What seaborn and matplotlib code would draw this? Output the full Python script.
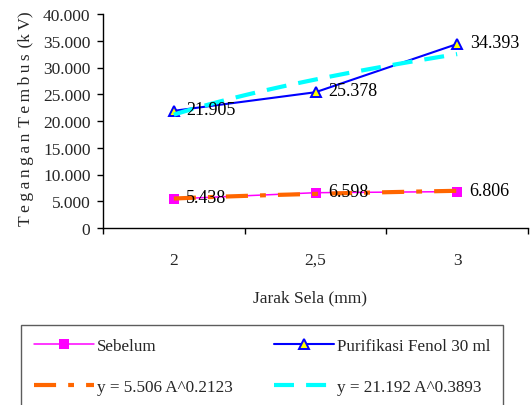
import numpy as np
import pandas as pd
import matplotlib
matplotlib.use("Agg")
import matplotlib.pyplot as plt
import seaborn as sns

# Gap distance categories (mm) and breakdown voltage (kV)
jarak_labels = ["2", "2,5", "3"]
jarak_pos = [1, 2, 3]
sebelum = [5.438, 6.598, 6.806]
purifikasi = [21.905, 25.378, 34.393]

# Power trendline coefficients: y = a * A^b
trend_sebelum = [5.506, 0.2123]
trend_purifikasi = [21.192, 0.3893]

y_ticks = [0, 5, 10, 15, 20, 25, 30, 35, 40]
y_tick_labels = ["0", "5.000", "10.000", "15.000", "20.000", "25.000",
                 "30.000", "35.000", "40.000"]

sns.set_theme(style="white")
plt.rcParams["font.family"] = ["Liberation Serif", "DejaVu Serif"]

fig = plt.figure(figsize=(5.32, 4.06), dpi=100)
ax = fig.add_axes([103 / 532, 1 - 229 / 406, 425 / 532, 214 / 406])

df = pd.DataFrame({"A": jarak_pos, "Sebelum": sebelum, "Purifikasi": purifikasi})

A_fine = np.linspace(jarak_pos[0], jarak_pos[-1], 100)
trend_df = pd.DataFrame({
    "A": A_fine,
    "ts": trend_sebelum[0] * A_fine ** trend_sebelum[1],
    "tp": trend_purifikasi[0] * A_fine ** trend_purifikasi[1],
})

sns.lineplot(data=df, x="A", y="Sebelum", ax=ax, color="#FF00FF", lw=1.1,
             marker="s", markersize=6.5, markeredgewidth=0,
             markerfacecolor="#FF00FF", label="Sebelum", zorder=3)
sns.lineplot(data=trend_df, x="A", y="ts", ax=ax, color="#FF6600", lw=3,
             linestyle=(0, (5.3, 2.9, 1.4, 2.9)),
             label="y = 5.506 A^0.2123", zorder=4)
sns.lineplot(data=df, x="A", y="Purifikasi", ax=ax, color="#0000FF", lw=1.5,
             marker="^", markersize=7.5, markeredgewidth=1.4,
             markeredgecolor="#0000FF", markerfacecolor="#FFFF00",
             label="Purifikasi Fenol 30 ml", zorder=3)
sns.lineplot(data=trend_df, x="A", y="tp", ax=ax, color="#00FFFF", lw=3,
             linestyle=(0, (4.8, 2.9)),
             label="y = 21.192 A^0.3893", zorder=4)

# Value labels to the right of each point
for xs, ys in [(jarak_pos, sebelum), (jarak_pos, purifikasi)]:
    for x, y in zip(xs, ys):
        ax.annotate(f"{y:.3f}", (x, y), xytext=(9, 1), textcoords="offset points",
                    ha="left", va="center", fontsize=13, color="black", zorder=6)

ax.set_xlim(0.5, 3.5)
ax.set_ylim(0, 40)
ax.set_yticks(y_ticks)
ax.set_yticklabels(y_tick_labels, fontsize=12.5)
ax.set_xticks(jarak_pos)
ax.set_xticklabels(jarak_labels, fontsize=12.5)
ax.set_xticks([0.5, 1.5, 2.5, 3.5], minor=True)
ax.tick_params(axis="x", which="major", length=0, pad=17)
ax.tick_params(axis="x", which="minor", length=4.5, width=1, color="black", direction="out", bottom=True)
ax.tick_params(axis="y", which="major", length=4, width=1, color="black", direction="out", left=True, pad=5)

for side in ["top", "right"]:
    ax.spines[side].set_visible(False)
for side in ["left", "bottom"]:
    ax.spines[side].set_color("black")
    ax.spines[side].set_linewidth(1)

ax.set_xlabel("Jarak Sela (mm)", fontsize=12.5)
ax.xaxis.set_label_coords(207 / 425, -61 / 214)
ax.set_ylabel("T\u2009e\u2009g\u2009a\u2009n\u2009g\u2009a\u2009n \u200aT\u2009e\u2009m\u2009b\u2009u\u2009s \u200a(k\u2009V)",
              fontsize=12.5)
ax.yaxis.set_label_coords(-69 / 425, 0.515)

handles, labels = ax.get_legend_handles_labels()
order = ["Sebelum", "y = 5.506 A^0.2123", "Purifikasi Fenol 30 ml", "y = 21.192 A^0.3893"]
hmap = dict(zip(labels, handles))
leg = fig.legend([hmap[k] for k in order], order, ncol=2, loc="upper left",
                 bbox_to_anchor=(21 / 532, 1 - 326 / 406),
                 fontsize=12.3, frameon=True, fancybox=False, edgecolor="#333333",
                 handlelength=3.5, handletextpad=0.2, labelspacing=1.45,
                 columnspacing=2.4, borderpad=0.75, borderaxespad=0)
leg.get_frame().set_linewidth(1)
ax.get_legend().remove()

fig.savefig("out.png", dpi=100)
